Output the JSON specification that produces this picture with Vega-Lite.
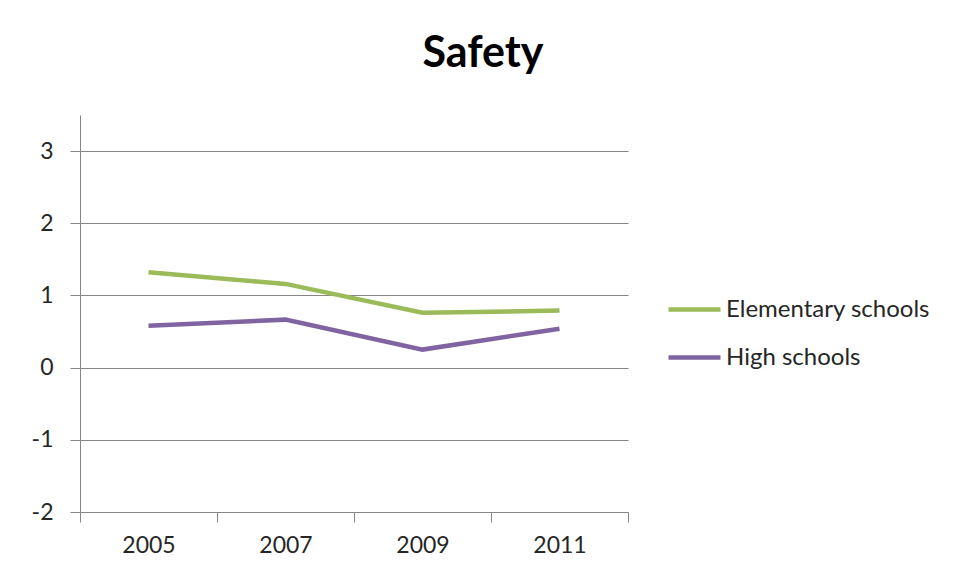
{
  "$schema": "https://vega.github.io/schema/vega-lite/v6.json",
  "width": 548,
  "height": 397,
  "autosize": {"type": "none"},
  "padding": {"left": 80, "top": 115, "right": 336, "bottom": 68},
  "background": "white",
  "config": {
    "font": "Lato",
    "view": {"stroke": null},
    "axis": {"labelFont": "Lato", "labelColor": "#262626"}
  },
  "title": {
    "text": "Safety",
    "font": "Lato",
    "fontSize": 43,
    "fontWeight": "bold",
    "color": "#000000",
    "anchor": "middle",
    "frame": "group",
    "dx": 129,
    "offset": 39
  },
  "data": {
    "values": [
      {"year": "2005", "series": "Elementary schools", "value": 1.32},
      {"year": "2007", "series": "Elementary schools", "value": 1.16},
      {"year": "2009", "series": "Elementary schools", "value": 0.76},
      {"year": "2011", "series": "Elementary schools", "value": 0.79},
      {"year": "2005", "series": "High schools", "value": 0.58},
      {"year": "2007", "series": "High schools", "value": 0.665},
      {"year": "2009", "series": "High schools", "value": 0.25},
      {"year": "2011", "series": "High schools", "value": 0.54}
    ]
  },
  "mark": {"type": "line", "strokeWidth": 4.5, "strokeCap": "butt"},
  "encoding": {
    "x": {
      "field": "year",
      "type": "ordinal",
      "bandPosition": 0.5,
      "scale": {"type": "band", "paddingInner": 0, "paddingOuter": 0},
      "axis": {
        "title": null,
        "labelAngle": 0,
        "labelFontSize": 23,
        "labelPadding": 12,
        "tickBand": "extent",
        "tickSize": 10,
        "tickColor": "#868686",
        "domainColor": "#868686",
        "grid": false
      }
    },
    "y": {
      "field": "value",
      "type": "quantitative",
      "scale": {"domain": [-2, 3.5], "nice": false, "zero": false},
      "axis": {
        "title": null,
        "values": [-2, -1, 0, 1, 2, 3],
        "labelExpr": "toString(datum.value)",
        "labelFontSize": 23,
        "labelPadding": 17,
        "tickSize": 10,
        "tickColor": "#868686",
        "domainColor": "#868686",
        "gridColor": "#868686",
        "gridOpacity": 1,
        "grid": true
      }
    },
    "color": {
      "field": "series",
      "type": "nominal",
      "scale": {"domain": ["Elementary schools", "High schools"], "range": ["#9BBB59", "#8064A2"]},
      "legend": {
        "title": null,
        "orient": "none",
        "legendX": 586,
        "legendY": 166,
        "symbolType": "stroke",
        "symbolSize": 2704,
        "symbolStrokeWidth": 4.5,
        "labelFontSize": 24,
        "labelLimit": 400,
        "labelColor": "#262626",
        "labelOffset": 3,
        "rowPadding": 7
      }
    }
  }
}
